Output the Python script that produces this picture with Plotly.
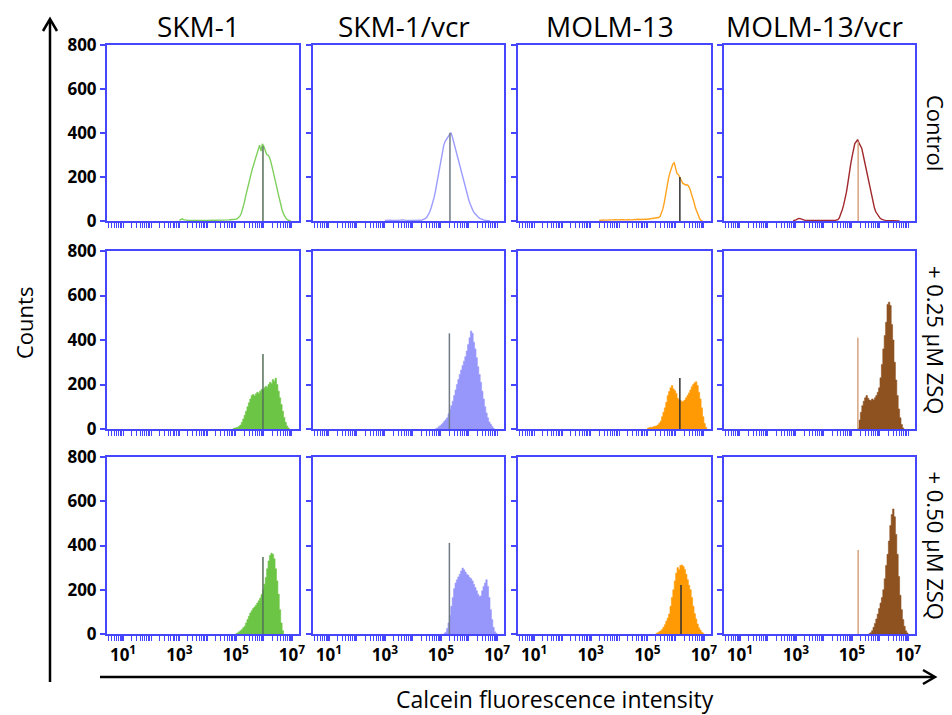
import math
import plotly.graph_objects as go

W, H = 952, 715

# ---------------- data ----------------
COLUMNS = ["SKM-1", "SKM-1/vcr", "MOLM-13", "MOLM-13/vcr"]
ROWS = ["Control", "+ 0.25 µM ZSQ", "+ 0.50 µM ZSQ"]

BIN_STEP = 0.05  # histogram bin width in log10 units

# Control (outline histograms): counts per bin, first bin at HIST_START
SKM1_CTRL = [3, 7, 10, 6, 4, 3, 3, 2, 3, 4, 3, 2, 3, 3, 2, 2, 3, 2, 3, 2, 2, 3, 3, 2, 3, 2, 3, 3, 4, 3,
             4, 4, 5, 4, 5, 5, 6, 6, 7, 7,
             8, 10, 14, 22, 35, 55, 80, 110, 140, 165, 190, 215, 240, 262, 280, 300, 330, 345, 318, 350,
             340, 325, 302, 300, 290, 270, 245, 215, 190, 160, 130, 100, 72, 50, 32, 18, 10, 5, 2, 0]
SKM1V_CTRL = [2, 3, 2, 3, 4, 3, 2, 3, 2, 3, 4, 5, 6, 5, 4, 3, 3, 2, 3, 2, 2, 3, 2, 3, 3, 4,
              3, 5, 8, 12, 18, 28, 42, 60, 80, 105, 135, 170, 210, 255, 290, 320, 345, 362, 372, 380,
              392, 402, 385, 360, 330, 305, 285, 265, 240, 215, 185, 160, 135, 112, 92, 75, 58, 45, 35, 27,
              20, 15, 11, 8, 6, 4, 3, 2, 1, 0]
MOLM13_CTRL = [2, 4, 6, 5, 4, 3, 4, 5, 4, 3, 5, 6, 5, 4, 5, 6, 7, 6, 5, 6, 7, 6, 5, 6, 7, 7, 6, 7, 8, 7,
               8, 7, 8, 8,
               8, 9, 10, 10, 11, 12, 13, 14, 16, 20, 35, 55, 85, 125, 165, 195, 220, 245, 258, 264,
               235, 215, 210, 200, 185, 172, 166, 164, 165, 160, 148, 130, 108, 85, 60, 40, 22, 10, 3, 0]
MOLM13V_CTRL = [2, 3, 5, 9, 12, 11, 8, 5, 3, 2, 3, 2, 2, 3, 2, 3, 2, 2, 3, 2, 2, 3, 2, 2, 3, 2, 3, 2, 3, 3,
                3, 4, 6, 15, 30, 50, 72, 98, 130, 170, 220, 255, 290, 325, 352, 360, 370, 355, 342, 330,
                300, 270, 235, 205, 170, 138, 108, 82, 60, 42, 30, 20, 13, 8, 5, 4, 3, 3, 2, 3,
                2, 2, 3, 2, 1, 1, 0]

# + 0.25 uM ZSQ (filled histograms)
SKM1_025 = [2, 4, 6, 8, 12, 18, 30, 45, 62, 80, 100, 118, 135, 150, 155, 148, 158, 165, 160, 170,
            178, 175, 185, 192, 188, 200, 210, 205, 222, 215, 228, 200, 170, 140, 110, 80, 52, 30, 14, 5, 0]
SKM1V_025 = [2, 5, 10, 15, 20, 27, 35, 42, 50, 68, 88, 105, 125, 150, 175, 200, 222, 245, 265, 285,
             305, 325, 350, 380, 410, 440, 430, 390, 360, 320, 280, 245, 210, 170, 135, 100, 72, 50, 32, 22,
             12, 4, 0]
MOLM13_025 = [4, 6, 8, 8, 10, 12, 14, 18, 25, 35, 55, 75, 95, 120, 150, 168, 185, 195, 180, 172,
              160, 138, 130, 128, 122, 125, 130, 140, 150, 162, 175, 190, 200, 208, 212, 195, 165, 135, 95, 55,
              25, 8, 0]
MOLM13V_025 = [5, 40, 75, 105, 125, 140, 150, 138, 130, 128, 135, 130, 140, 150, 165, 185, 230, 290, 360, 420,
               480, 560, 570, 555, 470, 400, 300, 220, 150, 90, 50, 20, 5, 0]

# + 0.50 uM ZSQ (filled histograms)
SKM1_050 = [2, 5, 10, 15, 20, 28, 35, 50, 65, 80, 95, 105, 115, 122, 130, 140, 150, 162, 178, 200,
            225, 255, 295, 330, 355, 365, 360, 340, 295, 240, 180, 110, 50, 15, 0]
SKM1V_050 = [3, 8, 25, 50, 85, 125, 165, 205, 230, 245, 258, 270, 285, 298, 290, 280, 270, 265, 255, 250,
             240, 225, 210, 195, 180, 170, 172, 195, 215, 230, 245, 215, 165, 110, 65, 30, 10, 3, 0]
MOLM13_050 = [3, 6, 10, 14, 20, 30, 42, 58, 72, 90, 125, 165, 200, 240, 275, 300, 290, 310, 312, 305,
              292, 270, 245, 220, 200, 165, 125, 92, 68, 45, 28, 18, 8, 3, 0]
MOLM13V_050 = [2, 6, 15, 30, 48, 68, 90, 115, 140, 165, 200, 250, 310, 360, 420, 490, 540, 565, 530, 450,
               360, 260, 175, 110, 65, 35, 15, 5, 0]

HIST_COUNTS = [
    [SKM1_CTRL, SKM1V_CTRL, MOLM13_CTRL, MOLM13V_CTRL],
    [SKM1_025, SKM1V_025, MOLM13_025, MOLM13V_025],
    [SKM1_050, SKM1V_050, MOLM13_050, MOLM13V_050],
]
HIST_START = [[3.0, 3.0, 3.3, 2.9],
              [4.9, 4.8, 5.0, 5.2],
              [5.0, 5.1, 5.3, 5.6]]  # log10 of first bin

# control-median marker lines (log10 position, height in counts)
MARKER_LOG = [[5.97, 5.32, 6.15, 5.22],
              [5.97, 5.30, 6.15, 5.21],
              [5.97, 5.30, 6.19, 5.22]]
MARKER_COUNT = [[340, 400, 200, 360],
                [337, 430, 229, 410],
                [348, 412, 221, 380]]

X_LABELLED = [1, 3, 5, 7]       # decades with a labelled tick
X_UNLABELLED = [0, 2, 4, 6]     # decades with a plain tick
Y_TICKS = [0, 200, 400, 600, 800]

# ---------------- style ----------------
FONT = "Open Sans"
BLUE = "#4646ff"
LINE_COLORS = ["#7fcf5c", "#9c9cff", "#ffa31f", "#a1282c"]
FILL_COLORS = ["#6cc544", "#9797fb", "#ff9a05", "#8e5120"]
MARKER_COLORS = ["#56705a", "#6f7a85", "#2f2f2f", "#d6a37e"]

COL_PX = [(107, 299), (313, 504), (518, 711), (724, 915)]
ROW_PX = [(45, 221), (251, 429), (457, 634)]
X_RANGE = [0.43, 7.25]


def px(x):
    return x / W


def py(y):
    return 1 - y / H


fig = go.Figure()

x_minor_base = [10 ** d for d in X_UNLABELLED] + [m * 10 ** d for d in range(0, 8) for m in range(2, 10)]
x_minor_base = [v for v in x_minor_base if X_RANGE[0] <= math.log10(v) <= X_RANGE[1]]
x_major = [10 ** d for d in X_LABELLED]

for r in range(3):
    for c in range(4):
        k = r * 4 + c + 1
        xa = "x" if k == 1 else f"x{k}"
        ya = "y" if k == 1 else f"y{k}"
        counts = HIST_COUNTS[r][c]
        start = HIST_START[r][c]
        xs = [10 ** (start + i * BIN_STEP) for i in range(len(counts))]
        if r == 0:
            fig.add_trace(go.Scatter(x=xs, y=counts, mode="lines",
                                     line=dict(color=LINE_COLORS[c], width=1.4),
                                     xaxis=xa, yaxis=ya, hoverinfo="skip"))
        else:
            fig.add_trace(go.Scatter(x=xs, y=counts, mode="lines", fill="tozeroy",
                                     line=dict(color=FILL_COLORS[c], width=0.6, shape="hv"),
                                     fillcolor=FILL_COLORS[c],
                                     xaxis=xa, yaxis=ya, hoverinfo="skip"))
        mx = 10 ** MARKER_LOG[r][c]
        fig.add_trace(go.Scatter(x=[mx, mx], y=[0, MARKER_COUNT[r][c]], mode="lines",
                                 line=dict(color=MARKER_COLORS[c], width=1.5),
                                 xaxis=xa, yaxis=ya, hoverinfo="skip"))

        x0, x1 = COL_PX[c]
        y0, y1 = ROW_PX[r]
        xkey = "xaxis" if k == 1 else f"xaxis{k}"
        ykey = "yaxis" if k == 1 else f"yaxis{k}"
        x_lab = (r == 2)
        y_lab = (c == 0)
        fig.layout[xkey] = dict(
            type="log", range=X_RANGE, domain=[px(x0), px(x1)], anchor=ya,
            automargin=False,
            showline=True, mirror=True, linecolor=BLUE, linewidth=2,
            showgrid=False, zeroline=False,
            tickmode="array",
            tickvals=x_major if x_lab else [],
            ticktext=[f"<b>10<sup>{d}</sup></b>" for d in X_LABELLED] if x_lab else [],
            showticklabels=x_lab,
            ticks="outside", ticklen=5, tickwidth=1.5, tickcolor=BLUE,
            minor=dict(tickmode="array",
                       tickvals=x_minor_base if x_lab else x_minor_base + x_major,
                       ticks="outside", ticklen=5, tickwidth=1, tickcolor=BLUE, showgrid=False),
            tickfont=dict(family=FONT, size=17, color="black"),
        )
        fig.layout[ykey] = dict(
            range=[0, 800], domain=[py(y1), py(y0)], anchor=xa,
            automargin=False,
            showline=True, mirror=True, linecolor=BLUE, linewidth=2,
            showgrid=False, zeroline=False,
            tickmode="array", tickvals=Y_TICKS if y_lab else [],
            showticklabels=y_lab,
            ticks="outside", ticklen=5, tickwidth=1.5, tickcolor=BLUE,
            minor=dict(tickmode="array", tickvals=[] if y_lab else Y_TICKS,
                       ticks="outside", ticklen=5, tickwidth=1.5, tickcolor=BLUE, showgrid=False),
            tickfont=dict(family=FONT, size=17, color="black", weight="bold"),
        )

annotations = []
for c, name in enumerate(COLUMNS):
    x0, x1 = COL_PX[c]
    annotations.append(dict(text=name, x=px((x0 + x1) / 2 - 5), y=py(26), xref="paper", yref="paper",
                            showarrow=False, xanchor="center", yanchor="middle",
                            font=dict(family=FONT, size=28, color="black")))
for r, name in enumerate(ROWS):
    y0, y1 = ROW_PX[r]
    annotations.append(dict(text=name, x=px(936), y=py((y0 + y1) / 2), xref="paper", yref="paper",
                            showarrow=False, xanchor="center", yanchor="middle", textangle=90,
                            font=dict(family=FONT, size=22, color="black")))
annotations.append(dict(text="Counts", x=px(24), y=py(323), xref="paper", yref="paper",
                        showarrow=False, xanchor="center", yanchor="middle", textangle=-90,
                        font=dict(family=FONT, size=22, color="black")))
annotations.append(dict(text="Calcein fluorescence intensity", x=px(555), y=py(699),
                        xref="paper", yref="paper", showarrow=False,
                        xanchor="center", yanchor="middle",
                        font=dict(family=FONT, size=23, color="black")))

shapes = [
    dict(type="line", xref="paper", yref="paper", x0=px(50), y0=py(682), x1=px(50), y1=py(20),
         line=dict(color="black", width=2.5)),
    dict(type="path", xref="paper", yref="paper",
         path=f"M {px(43)},{py(31)} L {px(50)},{py(19)} L {px(57)},{py(31)}",
         line=dict(color="black", width=2.5)),
    dict(type="line", xref="paper", yref="paper", x0=px(100), y0=py(677), x1=px(934), y1=py(677),
         line=dict(color="black", width=2.5)),
    dict(type="path", xref="paper", yref="paper",
         path=f"M {px(923)},{py(670)} L {px(935)},{py(677)} L {px(923)},{py(684)}",
         line=dict(color="black", width=2.5)),
]

fig.update_layout(width=W, height=H, margin=dict(l=0, r=0, t=0, b=0, autoexpand=False),
                  paper_bgcolor="white", plot_bgcolor="white", showlegend=False,
                  annotations=annotations, shapes=shapes)

fig.write_html("out.html", config={"displayModeBar": False},
               post_script="document.body.style.margin='0';document.body.style.overflow='hidden';")
